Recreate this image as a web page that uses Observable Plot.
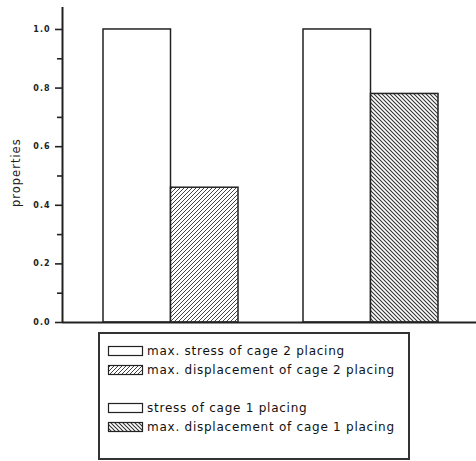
<!DOCTYPE html>
<html><head><meta charset="utf-8">
<script src="https://cdn.jsdelivr.net/npm/d3@7"></script>
<script src="https://cdn.jsdelivr.net/npm/@observablehq/plot@0.6"></script>
<style>
body{margin:0;background:#fff;}
#chart{width:476px;height:461px;position:relative;overflow:hidden;}
#chart svg{display:block;}
</style>
</head><body><div id="chart"></div>
<script>
// ---- data ----
const groups = ["cage 2 placing", "cage 1 placing"];
const stressValues = [1.0, 1.0];
const displacementValues = [0.46, 0.78];
const legendLabels = [
  "max. stress of cage 2 placing",
  "max. displacement of cage 2 placing",
  "stress of cage 1 placing",
  "max. displacement of cage 1 placing"
];
const yTicks = [0, 0.2, 0.4, 0.6, 0.8, 1.0];
const yMinorTicks = [0.1, 0.3, 0.5, 0.7, 0.9];
const yLabel = "properties";

// ---- layout helpers (data space) ----
const groupOffset = 0.205, barWidth = 0.3375;
const rows = groups.flatMap((g, i) => [
  {group: g, gi: i, slot: 0, kind: "stress", value: stressValues[i]},
  {group: g, gi: i, slot: 1, kind: "displacement", value: displacementValues[i]}
]);
const x1 = d => d.gi + groupOffset + d.slot * barWidth;
const x2 = d => d.gi + groupOffset + (d.slot + 1) * barWidth;
const ink = "#222";

function addPatterns(svg, prefix) {
  const defs = svg.insert("defs", ":first-child");
  const a = defs.append("pattern").attr("id", prefix + "A").attr("patternUnits", "userSpaceOnUse")
    .attr("width", 4).attr("height", 4);
  a.append("rect").attr("width", 4).attr("height", 4).attr("fill", "#fff");
  a.append("path").attr("d", "M-1,1 l2,-2 M0,4 l4,-4 M3,5 l2,-2").attr("stroke", "#444").attr("stroke-width", 1);
  const b = defs.append("pattern").attr("id", prefix + "B").attr("patternUnits", "userSpaceOnUse")
    .attr("width", 4).attr("height", 4);
  b.append("rect").attr("width", 4).attr("height", 4).attr("fill", "#fff");
  b.append("path").attr("d", "M-1,3 l2,2 M0,0 l4,4 M3,-1 l2,2").attr("stroke", "#333").attr("stroke-width", 1.1);
}

const plot = Plot.plot({
  width: 476,
  height: 328,
  marginLeft: 62,
  marginRight: 0,
  marginTop: 7,
  marginBottom: 6,
  style: {fontFamily: "DejaVu Sans", fontSize: "8px", color: ink, background: "#fff"},
  x: {domain: [0, 2.07], axis: null},
  y: {domain: [0, 1.075], axis: null},
  marks: [
    Plot.rect(rows.filter(d => d.kind === "stress"), {x1, x2, y1: () => 0, y2: "value", fill: "white", stroke: ink, strokeWidth: 1.5}),
    Plot.rect(rows.filter(d => d.kind === "displacement" && d.gi === 0), {x1, x2, y1: () => 0, y2: "value", fill: "url(#hpA)", stroke: ink, strokeWidth: 1.5}),
    Plot.rect(rows.filter(d => d.kind === "displacement" && d.gi === 1), {x1, x2, y1: () => 0, y2: "value", fill: "url(#hpB)", stroke: ink, strokeWidth: 1.5}),
    Plot.axisY({ticks: yTicks, tickSize: 7, tickPadding: 5, tickFormat: d => d.toFixed(1), label: null, strokeWidth: 1.6, fontWeight: "bold"}),
    Plot.axisY({ticks: yMinorTicks, tickSize: 5, text: null, label: null, strokeWidth: 1.6}),
    Plot.ruleY([0], {stroke: ink, strokeWidth: 2}),
    Plot.ruleX([0], {y1: 0, y2: 1.075, stroke: ink, strokeWidth: 2}),
    Plot.text([yLabel], {frameAnchor: "left", dx: -46, dy: 42, rotate: -90, fontSize: 11.5, fontWeight: "normal", fill: ink})
  ]
});
const psvg = d3.select(plot);
addPatterns(psvg, "hp");
psvg.selectAll("text").style("letter-spacing", "1px");
document.getElementById("chart").append(plot);

// ---- legend ----
const lsvg = d3.create("svg").attr("width", 476).attr("height", 133)
  .style("font-family", "DejaVu Sans").style("font-size", "12px");
addPatterns(lsvg, "lp");
lsvg.append("rect").attr("x", 99).attr("y", 5).attr("width", 310).attr("height", 126)
  .attr("fill", "none").attr("stroke", "#333").attr("stroke-width", 2);
const rowY = [23, 42, 80, 99];
const swatchFill = ["#fff", "url(#lpA)", "#fff", "url(#lpB)"];
legendLabels.forEach((lab, i) => {
  lsvg.append("rect").attr("x", 108.5).attr("y", rowY[i] - 4.5).attr("width", 34).attr("height", 9)
    .attr("fill", swatchFill[i]).attr("stroke", ink).attr("stroke-width", 1.2);
  lsvg.append("text").attr("x", 147).attr("y", rowY[i]).attr("dy", "0.35em")
    .attr("fill", "#111").style("letter-spacing", "0.75px").text(lab);
});
document.getElementById("chart").append(lsvg.node());
</script>
</body></html>
